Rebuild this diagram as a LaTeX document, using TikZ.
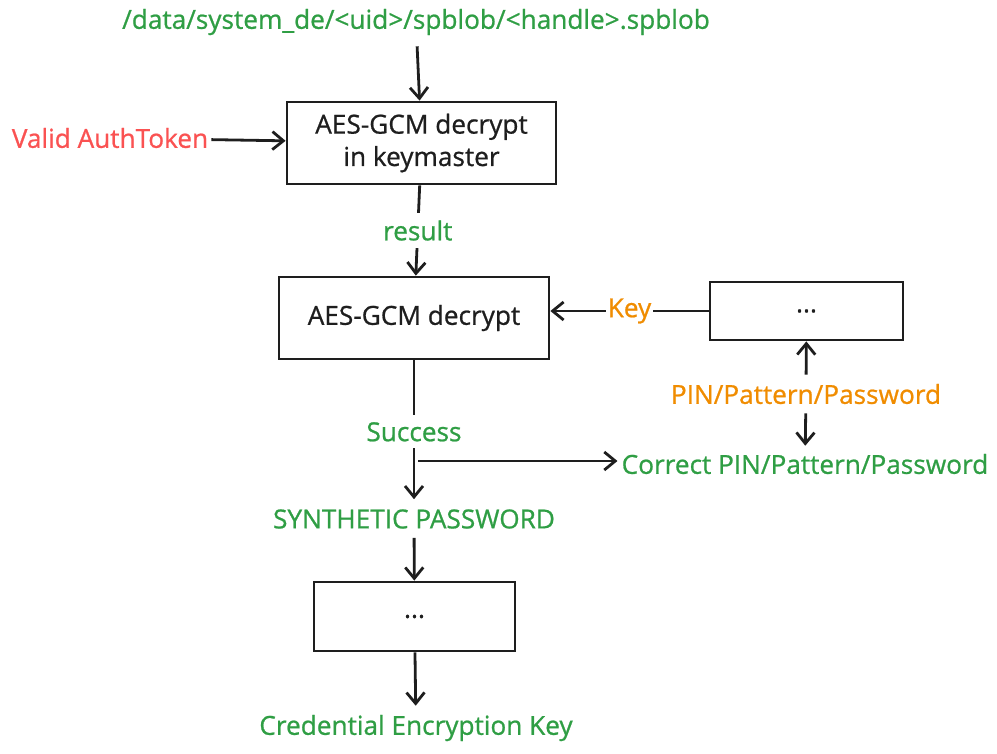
\documentclass[tikz,border=0pt]{standalone}
\usepackage{fontspec}
\setmainfont{Open Sans}[RawFeature={embolden=0.8}]
\usetikzlibrary{arrows.meta, positioning}

\definecolor{ink}{HTML}{1E1E1E}
\definecolor{sgreen}{HTML}{2F9E44}
\definecolor{sred}{HTML}{FA5252}
\definecolor{sorange}{HTML}{F08C00}

\begin{document}
\begin{tikzpicture}[x=1bp, y=-1bp, font=\fontsize{26.3}{32.5}\selectfont,
  box/.style={draw=ink, text=ink, line width=2.8bp, align=center, inner sep=0pt},
  gtxt/.style={text=sgreen, inner sep=3bp},
  otxt/.style={text=sorange, inner sep=3bp},
  rtxt/.style={text=sred, inner sep=3bp},
  gap/.style={fill=white, inner sep=7bp},
  arr/.style={-{Straight Barb[length=11bp, width=18bp, line width=2.8bp]}, line width=2.8bp, draw=ink}]
\useasboundingbox (0,0) rectangle (997,754);
% boxes
\node[box, minimum width=269bp, minimum height=82bp] (km) at (421.5,143) {AES-GCM decrypt\\ in keymaster};
\node[box, minimum width=270bp, minimum height=82bp] (dec) at (414,318) {AES-GCM decrypt};
\node[box, minimum width=193bp, minimum height=58bp] (pwbox) at (806.5,311) {...};
\node[box, minimum width=201bp, minimum height=69bp] (cekbox) at (414.5,616.5) {...};
% texts
\node[gtxt] (blob) at (416,22) {/data/system\_de/<uid>/spblob/<handle>.spblob};
\node[rtxt] (auth) at (110,138) {Valid AuthToken};
\node[otxt] (pin) at (806,394) {PIN/Pattern/Password};
\node[gtxt] (correct) at (805,464) {Correct PIN/Pattern/Password};
\node[gtxt] (synth) at (414,519) {SYNTHETIC PASSWORD};
\node[gtxt] (cek) at (416,728) {Credential Encryption Key};
\coordinate (split) at (414,461);
% connectors
\draw[arr, shorten <=8bp] (blob) -- (km);
\draw[arr] (auth) -- (km);
\draw[arr] (km) -- node[gtxt, gap] {result} (dec);
\draw[arr] (pwbox.west) -- node[otxt, gap, inner xsep=2bp] {Key} (pwbox.west -| dec.east);
\draw[arr, shorten >=7bp] (dec) -- node[gtxt, gap, pos=0.49] {Success} (synth);
\draw[arr, shorten <=4bp, shorten >=1bp] (split) -- (split -| correct.west);
\draw[arr, shorten <=6bp] (pin) -- (pwbox);
\draw[arr, shorten <=6bp, shorten >=5bp] (pin) -- (correct);
\draw[arr, shorten <=6bp] (synth) -- (cekbox);
\draw[arr, shorten >=6bp] (cekbox) -- (cek);
\end{tikzpicture}
\end{document}
